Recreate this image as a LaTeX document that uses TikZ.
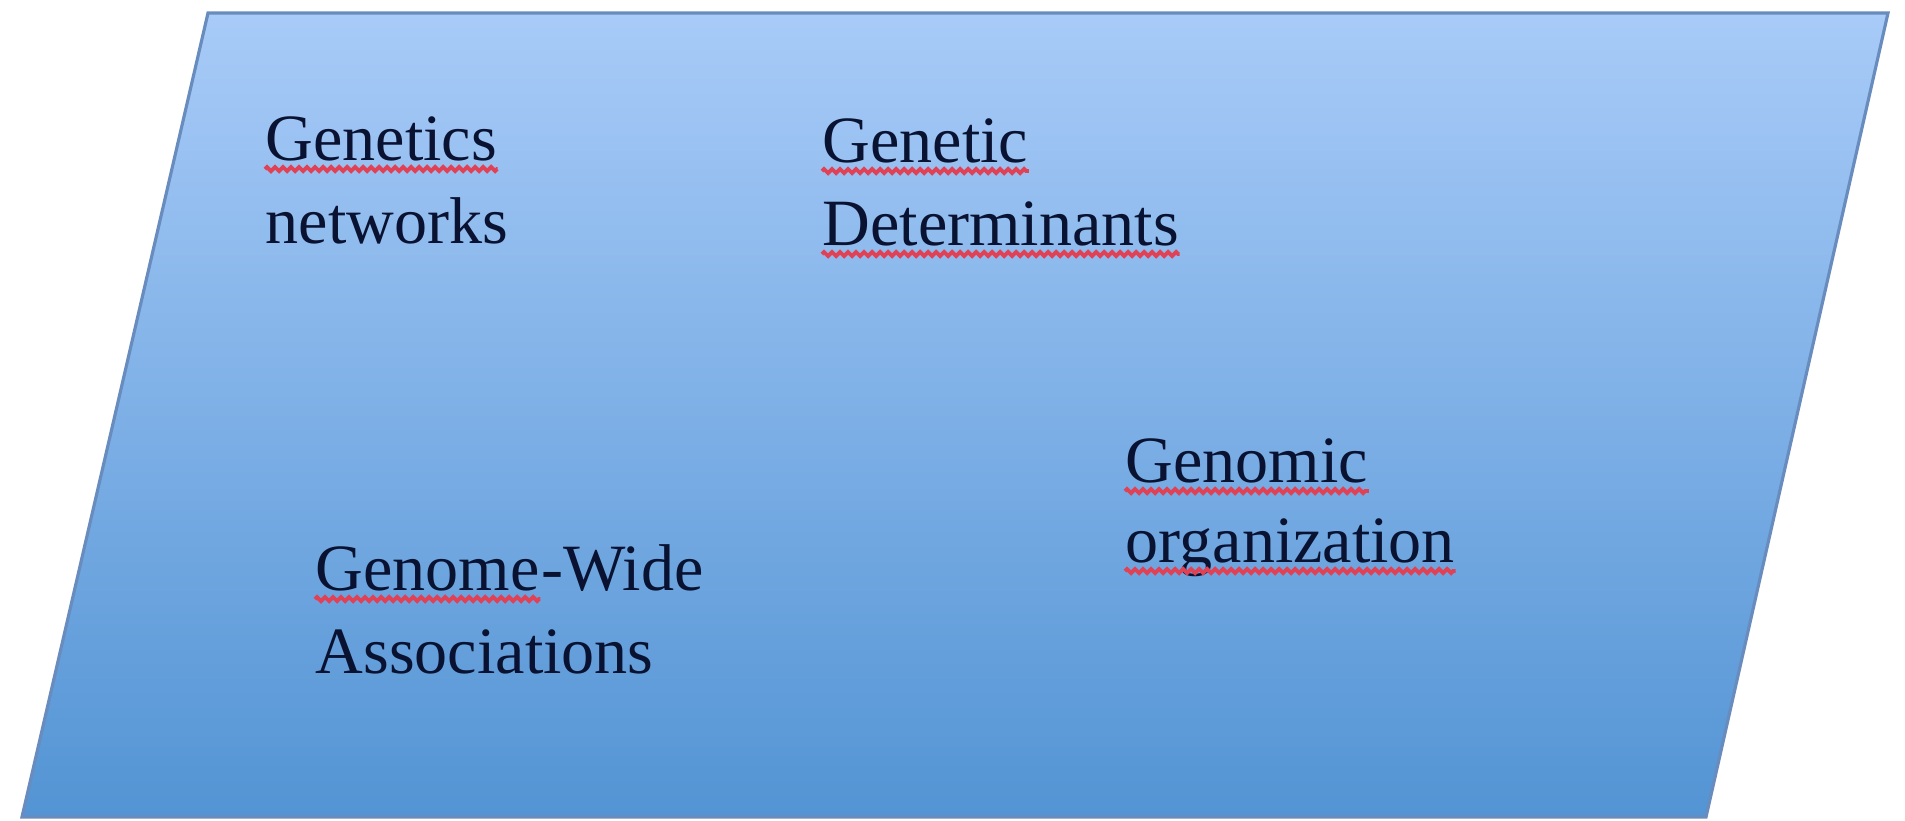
\documentclass[tikz,border=0pt]{standalone}
\usepackage{fontspec}
\setmainfont{Liberation Serif}
\usetikzlibrary{decorations.pathmorphing}
\definecolor{topblue}{RGB}{168,203,248}
\definecolor{botblue}{RGB}{83,148,212}
\definecolor{edgeblue}{RGB}{105,140,190}
\definecolor{inkblue}{RGB}{10,18,50}
\definecolor{spellred}{RGB}{225,65,85}
\begin{document}
\begin{tikzpicture}[x=0.01cm,y=-0.01cm,
  lbl/.style={anchor=base west,inner sep=0pt,text=inkblue,font=\fontsize{18.8}{23}\selectfont},
  wavy/.style={spellred,line width=1.1pt,decorate,decoration={zigzag,amplitude=0.2mm,segment length=0.8mm}}]
\useasboundingbox (0,0) rectangle (1905,820);
\fill[white] (0,0) rectangle (1905,820);
\coordinate (tl) at (208,13);
\coordinate (tr) at (1888,13);
\coordinate (br) at (1706,817);
\coordinate (bl) at (22,817);
\shade[top color=topblue,bottom color=botblue] (tl) -- (tr) -- (br) -- (bl) -- cycle;
\draw[edgeblue,line width=0.9pt] (tl) -- (tr) -- (br) -- (bl) -- cycle;
\node[lbl] (g1) at (265,160) {Genetics};
\node[lbl] (g2) at (265,243) {networks};
\node[lbl] (d1) at (822,162) {Genetic};
\node[lbl] (d2) at (822,245) {Determinants};
\node[lbl] (w1) at (315,590) {Genome};
\node[lbl] (w1b) at (w1.base east) {-Wide};
\node[lbl] (w2) at (315,673) {Associations};
\node[lbl] (o1) at (1125,482) {Genomic};
\node[lbl] (o2) at (1125,562) {organization};
\foreach \n in {g1,d1,d2,w1,o1,o2}
  \draw[wavy] ([yshift=-0.09cm]\n.base west) -- ([yshift=-0.09cm]\n.base east);
\end{tikzpicture}
\end{document}
